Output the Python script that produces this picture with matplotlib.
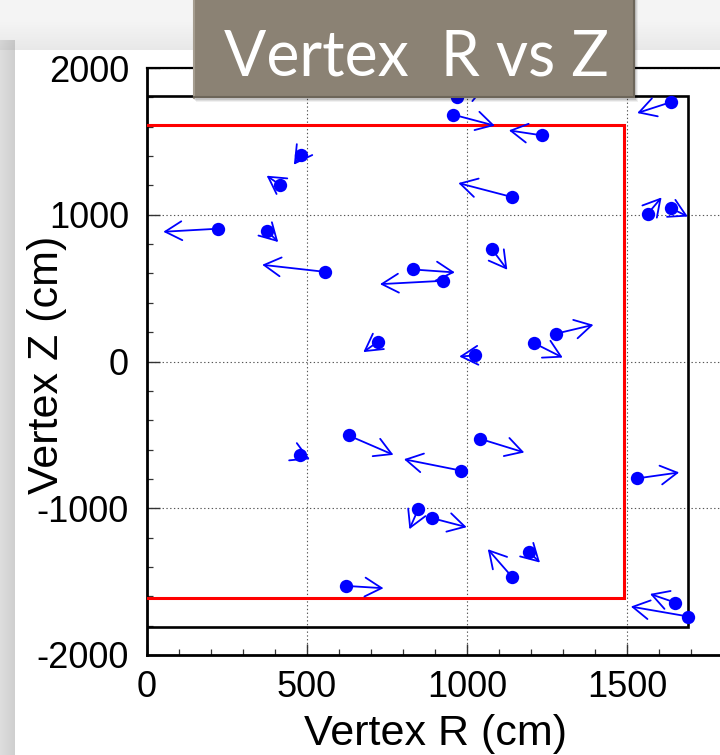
import numpy as np
import matplotlib
matplotlib.use("Agg")
import matplotlib.pyplot as plt
from matplotlib.patches import Rectangle

plt.rcParams["axes.unicode_minus"] = False

# Reconstructed vertices (cm) and the end points of their direction arrows
vtx_r = [968, 957, 1234, 1638, 481, 416, 1140, 1565, 1636, 223, 375, 1077,
         556, 832, 926, 1277, 1210, 721, 1025, 630, 1041, 478, 980, 1530,
         848, 892, 621, 1195, 1140, 1651, 1692]
vtx_z = [1802, 1682, 1541, 1768, 1409, 1203, 1121, 1007, 1046, 905, 891, 768,
         611, 627, 550, 189, 125, 134, 41, -504, -527, -636, -743, -797,
         -1004, -1068, -1529, -1300, -1466, -1643, -1738]
tip_r = [1060, 1087, 1131, 1532, 459, 374, 973, 1608, 1690, 51, 410, 1126,
         360, 962, 728, 1395, 1299, 676, 976, 770, 1179, 509, 803, 1663,
         820, 999, 739, 1228, 1065, 1572, 1512]
tip_z = [1880, 1607, 1575, 1693, 1341, 1266, 1216, 1118, 988, 884, 814, 625,
         659, 607, 527, 250, 27, 64, 34, -636, -620, -666, -666, -756,
         -1143, -1129, -1545, -1370, -1279, -1584, -1670]

# Inner detector wall and fiducial volume (cm)
det_r, det_half_z = 1690, 1810
fid_r, fid_half_z = 1490, 1610

x_ticks = [0, 500, 1000, 1500]
y_ticks = [-2000, -1000, 0, 1000, 2000]

W, H = 720, 755
fig = plt.figure(figsize=(W / 100, H / 100), dpi=100)
fig.patch.set_facecolor("#f3f3f3")

# --- slide background -------------------------------------------------
bg = fig.add_axes([0, 0, 1, 1], zorder=-10)
bg.set_xlim(0, W)
bg.set_ylim(H, 0)
bg.axis("off")
img = np.ones((H, W, 3)) * 0.96
xx = np.arange(W)[None, :]
yy = np.arange(H)[:, None]
strip = (xx < 15) & (yy >= 40)
grad = 0.87 - 0.06 * (xx / 15.0)
for c in range(3):
    img[..., c] = np.where(strip, grad, img[..., c])
shade = np.clip((yy - 20) / 30.0, 0, 1) * 0.05
img = img - np.where((yy < 50) & (yy > 20), shade, 0)[..., None]
bg.imshow(img, extent=(0, W, H, 0), aspect="auto")
bg.add_patch(Rectangle((15, 50), W - 15, H - 50, facecolor="white",
                       edgecolor="none"))

# --- main plot --------------------------------------------------------
left_px, right_px, top_px, bot_px = 147, 147 + 640, 68, 655
ax = fig.add_axes([left_px / W, 1 - bot_px / H,
                   (right_px - left_px) / W, (bot_px - top_px) / H], zorder=0)
ax.set_xlim(0, 2000)
ax.set_ylim(-2000, 2000)
ax.set_facecolor("white")

ax.set_xticks(x_ticks)
ax.set_yticks(y_ticks)
ax.set_xticks(np.arange(0, 2001, 100), minor=True)
ax.set_yticks(np.arange(-2000, 2001, 200), minor=True)
ax.tick_params(axis="both", which="both", direction="in", colors="#333333",
               labelcolor="black", top=False, right=False)
ax.tick_params(axis="y", which="major", length=9, width=1.0, pad=13,
               labelsize=26)
ax.tick_params(axis="y", which="minor", length=4.5, width=0.9)
ax.tick_params(axis="x", which="major", length=8, width=1.0, pad=11,
               labelsize=26)
ax.tick_params(axis="x", which="minor", length=4, width=0.9)
for lab in ax.get_xticklabels() + ax.get_yticklabels():
    lab.set_fontfamily("Liberation Sans")

ax.grid(True, which="major", color="#555555", linestyle=(0, (1.2, 2.2)),
        linewidth=0.8)
ax.axvline(2000, color="#555555", linestyle=(0, (1.2, 2.2)), linewidth=0.8)
ax.set_axisbelow(True)
for side in ("left", "bottom"):
    ax.spines[side].set_linewidth(2.0)
ax.spines["top"].set_linewidth(1.6)
ax.spines["right"].set_visible(False)

# detector and fiducial outlines
ax.plot([0, det_r, det_r, 0], [det_half_z, det_half_z, -det_half_z, -det_half_z],
        color="black", lw=1.9, solid_joinstyle="miter", zorder=3)
ax.plot([0, fid_r, fid_r, 0], [fid_half_z, fid_half_z, -fid_half_z, -fid_half_z],
        color="#ff0000", lw=2.2, solid_joinstyle="miter", zorder=3)

for r, z, tr, tz in zip(vtx_r, vtx_z, tip_r, tip_z):
    ax.annotate("", xy=(tr, tz), xytext=(r, z),
                arrowprops=dict(arrowstyle="->,head_length=1.2,head_width=0.68",
                                color="#0000ff", lw=1.3, shrinkA=0, shrinkB=0,
                                mutation_scale=10),
                zorder=4)
ax.plot(vtx_r, vtx_z, "o", color="#0000ff", markersize=9.6, zorder=5,
        markeredgewidth=0)

fig.text(436 / W, 1 - 745 / H, "Vertex R (cm)", fontsize=31,
         family="Liberation Sans", ha="center", va="baseline")
fig.text(58 / W, 1 - 365 / H, "Vertex Z (cm)", fontsize=31,
         family="Liberation Sans", ha="center", va="baseline", rotation=90,
         rotation_mode="anchor")

# --- slide title box --------------------------------------------------
ov = fig.add_axes([0, 0, 1, 1], zorder=10)
ov.set_xlim(0, W)
ov.set_ylim(H, 0)
ov.axis("off")
ov.patch.set_alpha(0)
for k, a in enumerate([0.10, 0.08, 0.06]):
    ov.add_patch(Rectangle((193 + 1 + k, -5), 442, 98 + 5 + 2 + k,
                           facecolor="black", alpha=a, edgecolor="none"))
ov.add_patch(Rectangle((193, -5), 442, 103, facecolor="#8b8274",
                       edgecolor="none"))
ov.plot([194, 194, 634], [98, -5, -5], color="#a59d90", lw=1.5)
ov.plot([194, 634, 634], [97, 97, -5], color="#6d665a", lw=1.5)
ov.text(416, 75, "Vertex  R vs Z", color="white", fontsize=45,
        family=["Lato", "DejaVu Sans"], fontweight="normal",
        ha="center", va="baseline")

fig.savefig("out.png", dpi=100)
